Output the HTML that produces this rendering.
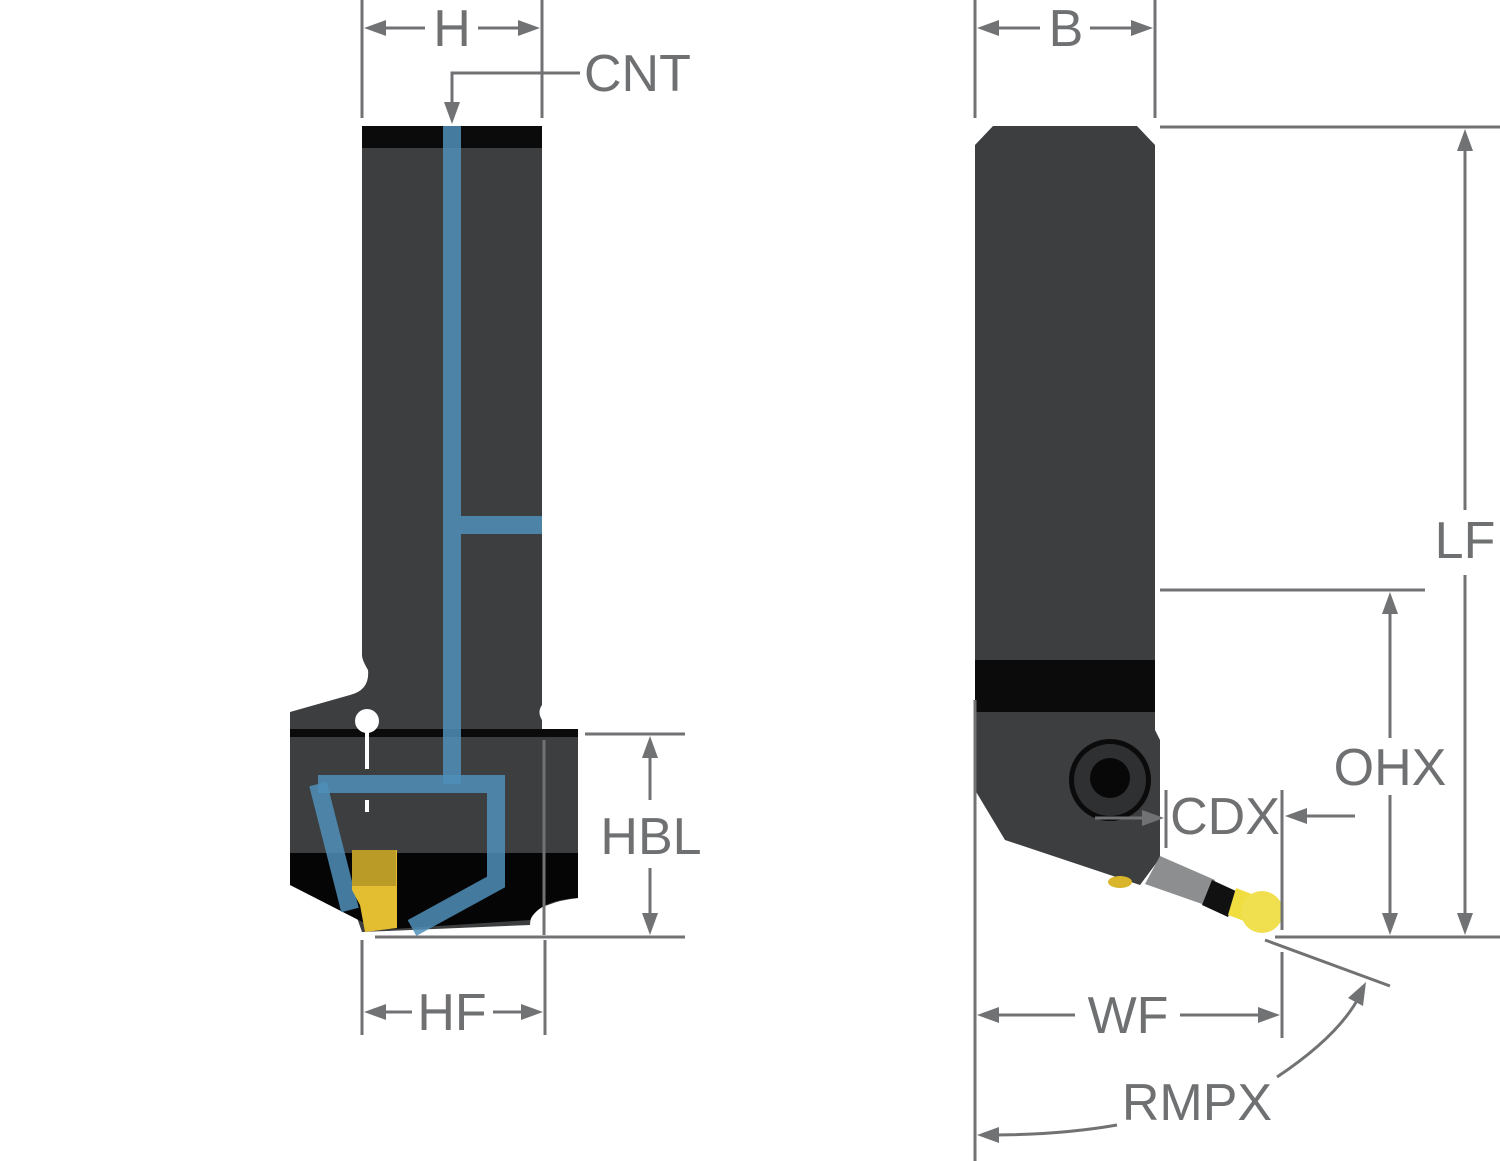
<!DOCTYPE html>
<html><head><meta charset="utf-8"><style>
html,body{margin:0;padding:0;background:#fff;}
svg{display:block;}
text{font-family:"Liberation Sans",sans-serif;fill:#6e7072;font-size:52px;}
</style></head><body>
<svg width="1500" height="1161" viewBox="0 0 1500 1161" xmlns="http://www.w3.org/2000/svg">
<!-- LEFT TOOL -->
<path d="M362,126 L542,126 L542,705 Q537,712 542,720 L542,735 L578,735 L578,898 Q560,900 548,905 Q530,910 530,925 L362,932 L355,912 L290,885 L290,712 L350,695 Q370,690 368,670 Q362,660 362,655 Z" fill="#3c3e40"/>
<rect x="362" y="126" width="180" height="22" fill="#0b0b0b"/>
<rect x="290" y="729" width="288" height="8" fill="#0b0b0b"/>
<path d="M290,853 L578,853 L578,898 Q540,900 530,920 L378,930 L290,885 Z" fill="#050505"/>
<circle cx="367" cy="721" r="12" fill="#fff"/>
<rect x="365" y="721" width="4" height="48" fill="#fff"/>
<rect x="365" y="800" width="4" height="12" fill="#fff"/>
<g fill="none" stroke="#4f8fb8" stroke-opacity="0.85" stroke-width="18">
<line x1="452" y1="126" x2="452" y2="784"/>
<line x1="461" y1="525" x2="542" y2="525"/>
<polyline points="318,784 496,784 496,882 412,928"/>
<polyline points="318,784 350,910"/>
</g>
<path d="M352,850 L397,850 L397,928 L365,932 L360,905 L352,890 Z" fill="#e2be30"/>
<rect x="352" y="850" width="44" height="36" fill="#8a7220" opacity="0.45"/>
<!-- RIGHT TOOL -->
<path d="M993,126 L1137,126 L1155,145 L1155,730 L1160,740 L1160,858 L1140,885 L1005,840 L975,790 L975,145 Z" fill="#3c3e40"/>
<rect x="975" y="660" width="180" height="52" fill="#0b0b0b"/>
<circle cx="1110" cy="780" r="41" fill="#0b0b0b"/>
<circle cx="1110" cy="780" r="36" fill="#2e3032"/>
<circle cx="1110" cy="778" r="20" fill="#080808"/>
<path d="M1160,856 L1215,880 L1205,905 L1145,884 Z" fill="#8c8e90"/>
<path d="M1212,880 L1238,892 L1228,917 L1202,905 Z" fill="#111"/>
<path d="M1236,888 L1262,898 L1255,925 L1228,915 Z" fill="#f0dd40"/>
<circle cx="1262" cy="912" r="21" fill="#f0e050"/>
<ellipse cx="1120" cy="882" rx="12" ry="6" fill="#d8b52a"/>
<!-- DIMENSIONS -->
<g stroke="#707274" stroke-width="3" fill="none">
<line x1="362" y1="0" x2="362" y2="118"/><line x1="542" y1="0" x2="542" y2="118"/>
<line x1="370" y1="28" x2="425" y2="28"/><line x1="478" y1="28" x2="535" y2="28"/>
<polyline points="580,73 452,73 452,110"/>
<line x1="975" y1="0" x2="975" y2="118"/><line x1="1155" y1="0" x2="1155" y2="118"/>
<line x1="985" y1="28" x2="1040" y2="28"/><line x1="1090" y1="28" x2="1145" y2="28"/>
<line x1="1160" y1="127" x2="1500" y2="127"/><line x1="1275" y1="937" x2="1500" y2="937"/>
<line x1="1465" y1="140" x2="1465" y2="510"/><line x1="1465" y1="575" x2="1465" y2="925"/>
<line x1="1160" y1="590" x2="1425" y2="590"/>
<line x1="1390" y1="600" x2="1390" y2="738"/><line x1="1390" y1="795" x2="1390" y2="925"/>
<line x1="1166" y1="790" x2="1166" y2="848"/><line x1="1282" y1="790" x2="1282" y2="930"/>
<line x1="1095" y1="818" x2="1150" y2="818"/>
<line x1="1355" y1="816" x2="1298" y2="816"/>
<line x1="585" y1="734" x2="685" y2="734"/><line x1="375" y1="937" x2="685" y2="937"/>
<line x1="650" y1="745" x2="650" y2="800"/><line x1="650" y1="868" x2="650" y2="925"/>
<line x1="544" y1="740" x2="544" y2="935"/>
<line x1="362" y1="940" x2="362" y2="1035"/><line x1="545" y1="940" x2="545" y2="1035"/>
<line x1="372" y1="1012" x2="412" y2="1012"/><line x1="493" y1="1012" x2="535" y2="1012"/>
<line x1="975" y1="700" x2="975" y2="1161"/><line x1="1282" y1="952" x2="1282" y2="1038"/>
<line x1="985" y1="1015" x2="1075" y2="1015"/><line x1="1180" y1="1015" x2="1270" y2="1015"/>
<line x1="1265" y1="940" x2="1390" y2="986"/>
<path d="M1277,1077 Q1340,1035 1360,995"/>
<path d="M1117,1125 Q1060,1135 990,1135"/>
</g>
<g fill="#707274">
<polygon points="364,28 386,20 386,36"/><polygon points="540,28 518,20 518,36"/>
<polygon points="452,124 444,102 460,102"/>
<polygon points="977,28 999,20 999,36"/><polygon points="1153,28 1131,20 1131,36"/>
<polygon points="1465,129 1457,151 1473,151"/><polygon points="1465,935 1457,913 1473,913"/>
<polygon points="1390,592 1382,614 1398,614"/><polygon points="1390,935 1382,913 1398,913"/>
<polygon points="1164,818 1142,810 1142,826"/><polygon points="1285,816 1307,808 1307,824"/>
<polygon points="650,736 642,758 658,758"/><polygon points="650,935 642,913 658,913"/>
<polygon points="364,1012 386,1004 386,1020"/><polygon points="543,1012 521,1004 521,1020"/>
<polygon points="977,1015 999,1007 999,1023"/><polygon points="1280,1015 1258,1007 1258,1023"/>
<polygon points="1366,982 1363,1006 1348,998"/>
<polygon points="977,1135 999,1127 999,1143"/>
</g>
<text x="452" y="46" text-anchor="middle">H</text>
<text x="584" y="91">CNT</text>
<text x="1066" y="46" text-anchor="middle">B</text>
<text x="1465" y="558" text-anchor="middle">LF</text>
<text x="1390" y="785" text-anchor="middle">OHX</text>
<text x="1225" y="834" text-anchor="middle">CDX</text>
<text x="651" y="854" text-anchor="middle">HBL</text>
<text x="452" y="1030" text-anchor="middle">HF</text>
<text x="1128" y="1033" text-anchor="middle">WF</text>
<text x="1197" y="1120" text-anchor="middle">RMPX</text>
</svg>
</body></html>
